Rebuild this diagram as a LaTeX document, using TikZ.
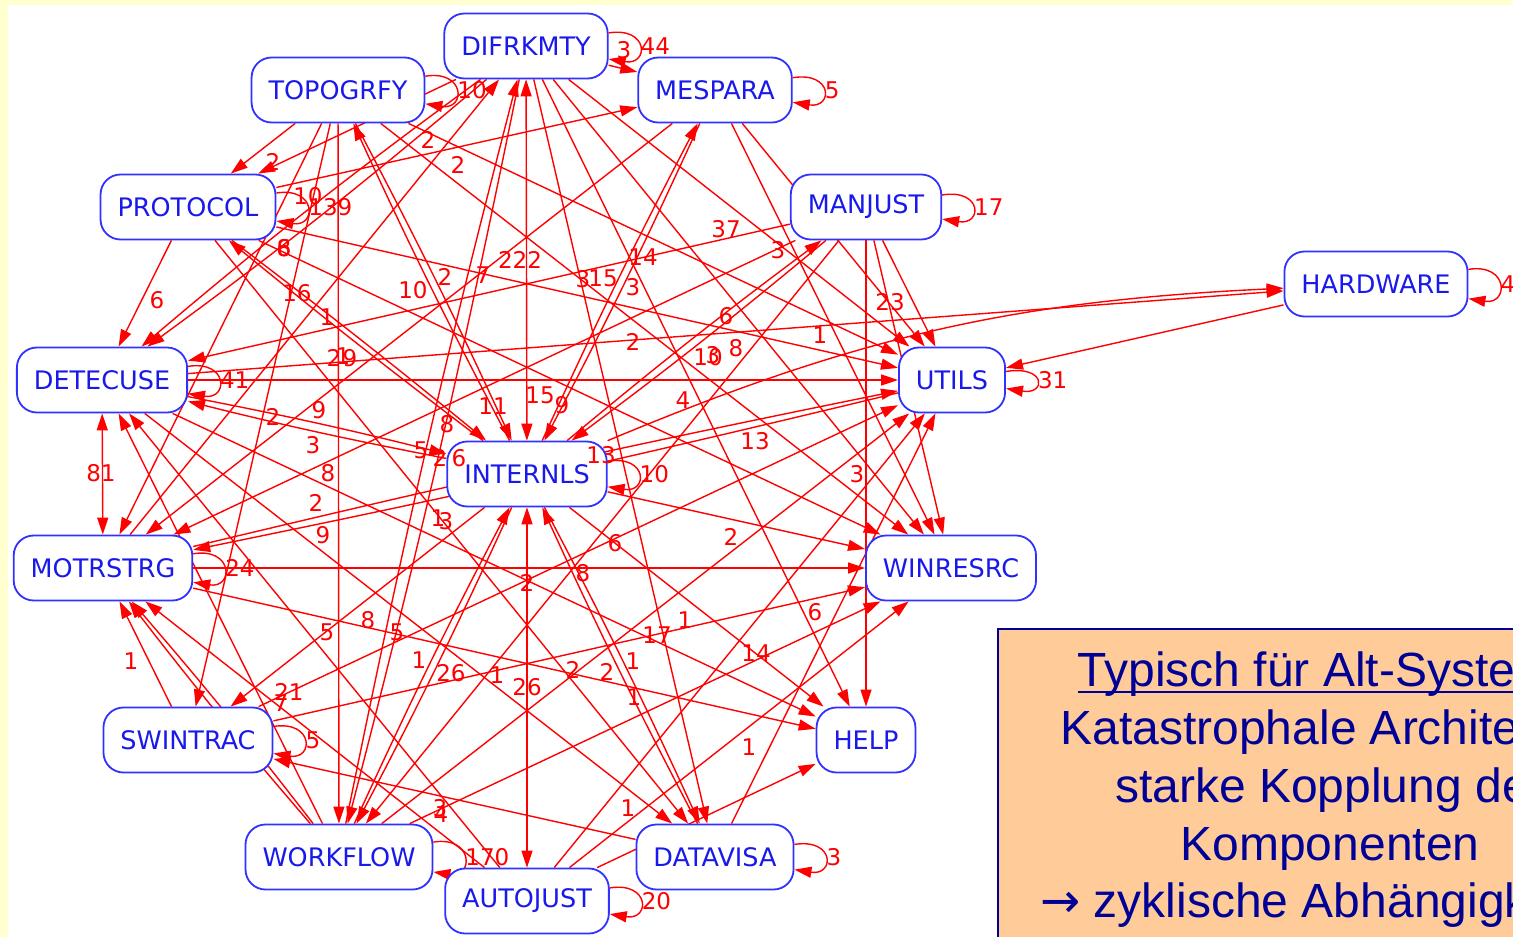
\documentclass[tikz,border=0pt]{standalone}
\usepackage{fontspec}
\newfontfamily\dejavu{DejaVu Sans}
\newfontfamily\notefont{Liberation Sans}
\usetikzlibrary{arrows.meta}
\definecolor{pageyellow}{RGB}{255,255,208}
\definecolor{modblue}{RGB}{50,50,255}
\definecolor{modtext}{RGB}{25,25,235}
\definecolor{notefill}{RGB}{255,204,153}
\definecolor{notetext}{RGB}{0,0,150}
\pgfdeclarelayer{paper}
\pgfdeclarelayer{edges}
\pgfsetlayers{paper,edges,main}
\tikzset{
  mod/.style={draw=modblue, line width=1.8pt, rounded corners=20pt, fill=white,
    text=modtext, font=\dejavu\fontsize{25.5}{30}\selectfont,
    inner xsep=17pt, minimum height=65pt},
  edge/.style={draw=red, line width=1.4pt, -{Triangle[length=17pt,width=11pt]}},
  twoway/.style={draw=red, line width=1.4pt,
    {Triangle[length=17pt,width=11pt]}-{Triangle[length=17pt,width=11pt]}},
  selfloop/.style={out=9, in=-9, distance=41pt},
  lbl/.style={text=red, font=\dejavu\fontsize{23}{23}\selectfont, inner sep=0pt},
  looplbl/.style={lbl, right=1pt, pos=0.5},
  notetxt/.style={text=notetext, font=\notefont\fontsize{48}{58}\selectfont, inner sep=0pt, anchor=base}
}
\begin{document}
\begin{tikzpicture}
\useasboundingbox (0,0) rectangle (1513pt,-937pt);
\begin{scope}[x=1pt,y=1pt]
% modules
\node[mod] (A) at (526,-46)  {DIFRKMTY};
\node[mod] (B) at (338,-90)  {TOPOGRFY};
\node[mod] (C) at (715,-90)  {MESPARA};
\node[mod] (D) at (188,-207) {PROTOCOL};
\node[mod] (E) at (866,-207) {MANJUST};
\node[mod] (F) at (1376,-284) {HARDWARE};
\node[mod] (G) at (102,-380) {DETECUSE};
\node[mod] (H) at (952,-380) {UTILS};
\node[mod] (I) at (527,-474) {INTERNLS};
\node[mod] (J) at (103,-568) {MOTRSTRG};
\node[mod] (K) at (951,-568) {WINRESRC};
\node[mod] (L) at (188,-740) {SWINTRAC};
\node[mod] (M) at (866,-740) {HELP};
\node[mod] (N) at (339,-857) {WORKFLOW};
\node[mod] (O) at (715,-857) {DATAVISA};
\node[mod] (P) at (527,-901) {AUTOJUST};

\begin{pgfonlayer}{paper}
  \fill[pageyellow] (0,0) rectangle (1513,-937);
  \fill[white] (8,-5) rectangle (1513,-937);
\end{pgfonlayer}

\begin{pgfonlayer}{edges}
% self references
\draw[edge] (A) to[selfloop] node[looplbl]{44} (A);
\draw[edge] (B) to[selfloop] node[looplbl]{10} (B);
\draw[edge] (C) to[selfloop] node[looplbl]{5} (C);
\draw[edge] (D) to[selfloop] node[looplbl]{139} (D);
\draw[edge] (E) to[selfloop] node[looplbl]{17} (E);
\draw[edge] (F) to[selfloop] node[looplbl]{4} (F);
\draw[edge] (G) to[selfloop] node[looplbl]{41} (G);
\draw[edge] (H) to[selfloop] node[looplbl]{31} (H);
\draw[edge] (I) to[selfloop] node[looplbl]{10} (I);
\draw[edge] (J) to[selfloop] node[looplbl]{24} (J);
\draw[edge] (L) to[selfloop] node[looplbl]{5} (L);
\draw[edge] (N) to[selfloop] node[looplbl]{170} (N);
\draw[edge] (O) to[selfloop] node[looplbl]{3} (O);
\draw[edge] (P) to[selfloop] node[looplbl]{20} (P);
% DIFRKMTY
\draw[edge] (A) -- (C);
\draw[edge] (A) to[bend left=2] (G);
\draw[edge] (A) to[bend right=2] (G);
\draw[edge] (J) -- (A);
\draw[edge] (A) to[bend left=1.5] (N);
\draw[edge] (N) to[bend left=1.5] (A);
\draw[edge] (A) -- (O);
\draw[edge] (A) -- (M);
\draw[edge] (A) -- (K);
\draw[edge] (A) -- (H);
\draw[edge] (A) -- (D);
\draw[twoway] (A) -- (I);
% TOPOGRFY
\draw[edge] (B) -- (D);
\draw[edge] (B) to[bend left=1.5] (I);
\draw[edge] (I) to[bend left=1.5] (B);
\draw[edge] (B) -- (J);
\draw[edge] (B) -- (L);
\draw[edge] (B) -- (N);
\draw[edge] (B) -- (K);
\draw[edge] (B) -- (H);
% PROTOCOL
\draw[edge] (D) -- (C);
\draw[edge] (D) -- (G);
\draw[edge] (D) to[bend left=1] (I);
\draw[edge] (I) to[bend left=1] (D);
\draw[edge] (D) -- (O);
\draw[edge] (D) -- (H);
\draw[edge] (D) -- (K);
% MESPARA
\draw[edge] (C) to[bend left=1.5] (I);
\draw[edge] (I) to[bend left=1.5] (C);
\draw[edge] (C) -- (K);
\draw[edge] (C) -- (H);
\draw[edge] (C) -- (J);
% MANJUST
\draw[edge] (E) -- (G);
\draw[edge] (E) to[bend left=1.5] (I);
\draw[edge] (I) to[bend left=1.5] (E);
\draw[edge] (E) -- (M);
\draw[edge] (E) -- (H);
\draw[edge] (E) -- (K);
\draw[edge] (E) -- (N);
\draw[edge] (E) -- (J);
% HARDWARE
\draw[edge] (G) -- (F);
\draw[edge] (I) to[bend left=10] (F);
\draw[edge] (F) -- (H);
% DETECUSE
\draw[twoway] (G) -- (J);
\draw[edge] (G) -- (H);
\draw[edge] (G) -- (O);
\draw[edge] (G) -- (M);
\draw[edge] (G) to[bend left=1.5] (I);
\draw[edge] (I) to[bend left=1.5] (G);
\draw[edge] (N) -- (G);
\draw[edge] (P) -- (G);
% MOTRSTRG
\draw[edge] (H) to[bend left=1] (J);
\draw[edge] (J) to[bend left=1] (H);
\draw[edge] (J) -- (K);
\draw[edge] (J) -- (M);
\draw[edge] (L) -- (J);
\draw[edge] (N) to[bend left=1.5] (J);
\draw[edge] (N) to[bend right=1.5] (J);
\draw[edge] (P) -- (J);
% SWINTRAC
\draw[edge] (I) -- (L);
\draw[edge] (O) -- (L);
\draw[edge] (L) -- (K);
\draw[edge] (L) -- (H);
% INTERNLS
\draw[edge] (I) to[bend left=1.5] (N);
\draw[edge] (N) to[bend left=1.5] (I);
\draw[edge] (I) -- (K);
\draw[edge] (I) -- (M);
\draw[edge] (I) to[bend left=1.5] (O);
\draw[edge] (O) to[bend left=1.5] (I);
\draw[twoway] (I) -- (P);
% WORKFLOW, AUTOJUST, DATAVISA
\draw[edge] (N) -- (H);
\draw[edge] (N) -- (K);
\draw[edge] (P) -- (H);
\draw[edge] (P) -- (M);
\draw[edge] (P) -- (K);
\draw[edge] (O) -- (H);
\end{pgfonlayer}

% dependency counts
\foreach \t/\x/\y in {
  3/624/50, 2/273/162, 2/428/140, 2/458/165, 10/308/196, 6/284/248, 8/284/248,
  37/726/229, 3/778/250, 6/157/300, 16/297/293, 1/327/317, 10/413/290,
  2/445/277, 7/483/275, 222/520/260, 3/583/279, 15/603/278, 14/643/257,
  3/633/287, 23/890/302, 6/726/316, 1/820/335, 2/633/342, 10/708/357,
  3/713/355, 8/736/348, 2/334/358, 1/343/356, 9/350/358, 2/273/417,
  9/319/410, 11/493/406, 15/540/395, 9/562/405, 4/683/400, 3/313/445,
  8/447/424, 5/421/450, 2/440/458, 6/459/458, 13/601/455, 13/755/441,
  81/101/473, 8/328/473, 2/316/503, 3/857/474, 9/323/535, 1/438/518,
  3/446/521, 2/731/537, 6/615/543, 2/527/583, 8/583/573, 5/327/632,
  8/368/620, 5/397/632, 6/815/612, 17/657/635, 1/685/620, 1/131/661,
  14/756/653, 1/419/660, 26/451/673, 1/497/675, 26/527/687, 2/573/670,
  2/607/672, 1/633/661, 1/634/697, 21/289/692, 7/281/703, 1/749/747,
  3/440/808, 4/441/814, 1/628/808}
  \node[lbl] at (\x,-\y) {\t};

% note
\draw[draw=notetext, line width=2pt, fill=notefill] (998,-629) rectangle (1700,-1000);
\node[notetxt] (n1) at (1330,-686) {Typisch für Alt-Systeme};
\node[notetxt] (n2) at (1330,-744) {Katastrophale Architektur};
\node[notetxt] (n3) at (1330,-802) {starke Kopplung der};
\node[notetxt] (n4) at (1330,-860) {Komponenten};
\node[notetxt] (n5) at (1310,-917) {{\dejavu →} zyklische Abhängigkeit};
\draw[notetext, line width=2.5pt] ([yshift=-6pt]n1.base west) -- ([yshift=-6pt]n1.base east);
\end{scope}
\end{tikzpicture}
\end{document}
